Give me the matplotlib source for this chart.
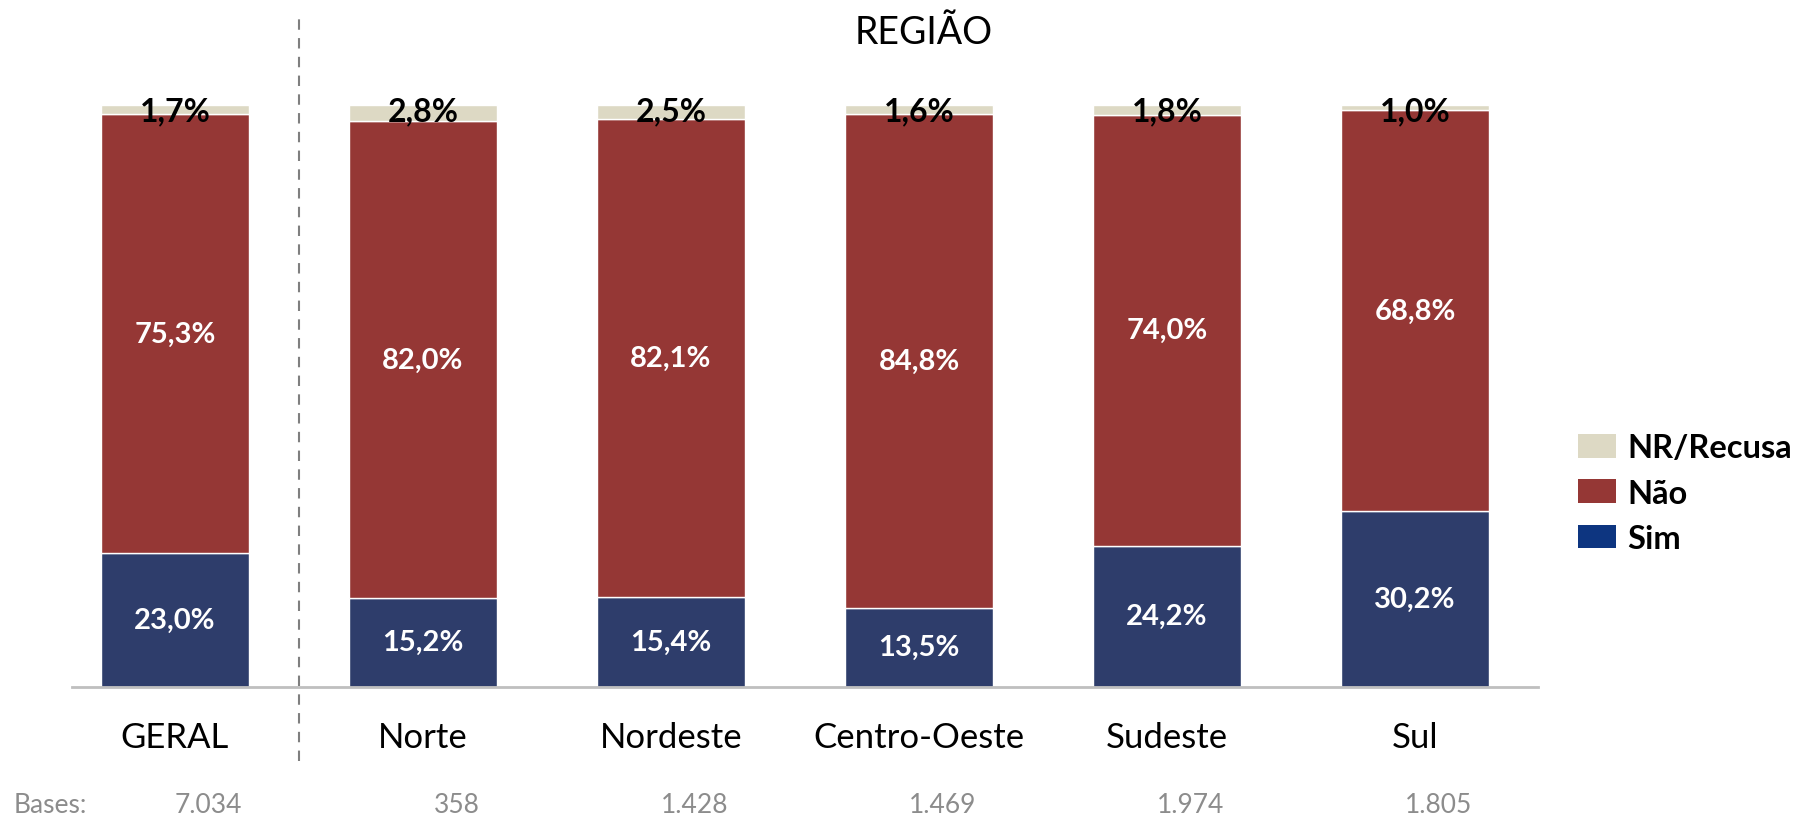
import matplotlib
matplotlib.use("Agg")
import matplotlib.pyplot as plt
from matplotlib.patches import Patch
from matplotlib.lines import Line2D

plt.rcParams['font.family'] = ['Lato', 'DejaVu Sans']

categories = ["GERAL", "Norte", "Nordeste", "Centro-Oeste", "Sudeste", "Sul"]
sim = [23.0, 15.2, 15.4, 13.5, 24.2, 30.2]
nao = [75.3, 82.0, 82.1, 84.8, 74.0, 68.8]
nr = [1.7, 2.8, 2.5, 1.6, 1.8, 1.0]
bases = ["7.034", "358", "1.428", "1.469", "1.974", "1.805"]

c_sim = "#2E3D6B"
c_nao = "#953735"
c_nr = "#DDD9C4"
c_sim_leg = "#0D3580"

def fmt(v):
    return f"{v:.1f}%".replace(".", ",")

fig = plt.figure(figsize=(18.18, 8.2), dpi=100)
ax = fig.add_axes([72/1818, (820-687.5)/820, (1538-72)/1818, 582/820])

x = list(range(len(categories)))
w = 0.597
ax.bar(x, sim, w, color=c_sim, edgecolor="white", linewidth=1)
ax.bar(x, nao, w, bottom=sim, color=c_nao, edgecolor="white", linewidth=1)
bot2 = [s + n for s, n in zip(sim, nao)]
ax.bar(x, nr, w, bottom=bot2, color=c_nr, edgecolor="white", linewidth=1)

for i in x:
    ax.text(i, sim[i] / 2, fmt(sim[i]), ha="center", va="center",
            color="white", fontsize=21, fontweight="bold")
    ax.text(i, sim[i] + nao[i] / 2, fmt(nao[i]), ha="center", va="center",
            color="white", fontsize=21, fontweight="bold")
    ax.text(i, 98.9, fmt(nr[i]), ha="center", va="center",
            color="black", fontsize=23, fontweight="bold", clip_on=False)

ax.set_xlim((72-175)/248, (1538-175)/248)
ax.set_ylim(0, 100)
for s in ["top", "right", "left"]:
    ax.spines[s].set_visible(False)
ax.spines["bottom"].set_color("#BFBFBF")
ax.spines["bottom"].set_linewidth(2)
ax.set_yticks([])
ax.set_xticks(x)
ax.set_xticklabels(categories, fontsize=25)
ax.tick_params(axis="x", length=0, pad=25)

# bases row
trans = ax.get_xaxis_transform()
fig.text(14/1818, (820-806)/820, "Bases:", fontsize=19, color="#8C8C8C",
         ha="left", va="center")
for i in x:
    dx = 0.135 if i < 2 else 0.095
    ax.text(i + dx, (806-687.5) / -582, bases[i], transform=trans,
            ha="center", va="center", fontsize=19, color="#8C8C8C", clip_on=False)

# dashed separator
fig.add_artist(Line2D([299/1818, 299/1818], [(820-762)/820, (820-11.6)/820],
                      transform=fig.transFigure, color="#7F7F7F",
                      linestyle=(0, (5, 4)), linewidth=1.5))

# title
ax.text(3.02, (687.5-33) / 582, "REGIÃO", transform=trans, ha="center",
        va="center", fontsize=27, clip_on=False)

handles = [Patch(facecolor=c_nr, label="NR/Recusa"),
           Patch(facecolor=c_nao, label="Não"),
           Patch(facecolor=c_sim_leg, label="Sim")]
leg = fig.legend(handles=handles, loc="center left",
                 bbox_to_anchor=(1578/1818, (820-494)/820), frameon=False,
                 prop={"size": 23.5, "weight": "bold"}, handlelength=1.17,
                 handleheight=0.74, handletextpad=0.34, labelspacing=0.5,
                 borderaxespad=0, borderpad=0)

fig.savefig("out.png", dpi=100)
